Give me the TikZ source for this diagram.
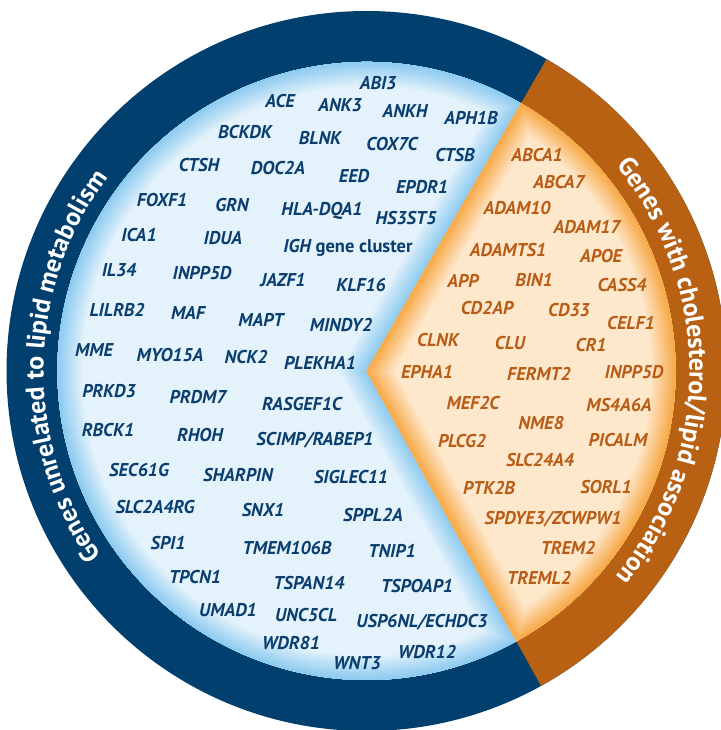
\documentclass[tikz,border=0pt]{standalone}
\usepackage{fontspec}
\setmainfont{PT Sans}
\usetikzlibrary{decorations.text}
\definecolor{ringblue}{RGB}{0,63,110}
\definecolor{ringorange}{RGB}{185,97,19}
\definecolor{bluefill}{RGB}{227,242,251}
\definecolor{blueedge}{RGB}{140,202,240}
\definecolor{orangefill}{RGB}{254,232,204}
\definecolor{orangeedge}{RGB}{247,168,69}
\definecolor{bluetext}{RGB}{10,62,110}
\definecolor{orangetext}{RGB}{184,92,22}
\tikzset{
  gene/.style={font=\bfseries\itshape\fontsize{18.5}{20}\selectfont, inner sep=0pt, text height=13pt, text depth=0pt},
  bgene/.style={gene, text=bluetext},
  ogene/.style={gene, text=orangetext},
  ringtext/.style={decorate, decoration={text along path, text align=center, text color=white,
    text={|\bfseries\fontsize{26}{26}\selectfont|#1}}}
}

\begin{document}
\begin{tikzpicture}[x=1pt,y=1pt]
\useasboundingbox (0,0) rectangle (720,-730);
\def\R{360}
\def\r{309}
\coordinate (c) at (366.5,-371);
\fill[ringblue] (c) circle (\R);
\fill[ringorange] (c) -- ++(60:\R) arc (60:-61:\R) -- cycle;
\begin{scope}
\clip (c) -- ++(60:\r) arc (60:299:\r) -- cycle;
\fill[bluefill] (c) circle (\r);
\foreach \k [evaluate=\k as \w using 52-4*\k, evaluate=\k as \p using int(8*\k)] in {0,...,12}
  \draw[line width=\w, blueedge!\p!bluefill] (c) -- ++(60:\r) arc (60:299:\r) -- cycle;
\end{scope}
\begin{scope}
\clip (c) -- ++(60:\r) arc (60:-61:\r) -- cycle;
\fill[orangefill] (c) circle (\r);
\foreach \k [evaluate=\k as \w using 52-4*\k, evaluate=\k as \p using int(8*\k)] in {0,...,12}
  \draw[line width=\w, orangeedge!\p!orangefill] (c) -- ++(60:\r) arc (60:-61:\r) -- cycle;
\end{scope}
\path[shift={(c)}, ringtext={Genes unrelated to lipid metabolism}] (218:323) arc (218:140:323);
\path[shift={(c)}, ringtext={Genes with cholesterol/lipid association}] (42:323) arc (42:-42:323);

\node[bgene] (abi3) at (378,-83) {ABI3};
\node[bgene] (ace) at (280,-101) {ACE};
\node[bgene] (ank3) at (340,-105) {ANK3};
\node[bgene] (ankh) at (405,-111) {ANKH};
\node[bgene] (aph1b) at (471,-118) {APH1B};
\node[bgene] (bckdk) at (245,-132) {BCKDK};
\node[bgene] (blnk) at (320,-138) {BLNK};
\node[bgene] (cox7c) at (392,-144) {COX7C};
\node[bgene] (ctsb) at (455,-155) {CTSB};
\node[bgene] (ctsh) at (199,-165) {CTSH};
\node[bgene] (doc2a) at (278,-168) {DOC2A};
\node[bgene] (eed) at (354,-176) {EED};
\node[bgene] (epdr1) at (422,-187) {EPDR1};
\node[bgene] (foxf1) at (162,-200) {FOXF1};
\node[bgene] (grn) at (232,-205) {GRN};
\node[bgene] (hladqa1) at (322,-209) {HLA-DQA1};
\node[bgene] (hs3st5) at (406,-218) {HS3ST5};
\node[bgene] (ica1) at (139,-235) {ICA1};
\node[bgene] (idua) at (223,-238) {IDUA};
\node[bgene] (igh) at (348,-246) {IGH\upshape\ gene cluster};
\node[bgene] (il34) at (119,-270) {IL34};
\node[bgene] (inpp5db) at (202,-273) {INPP5D};
\node[bgene] (jazf1) at (283,-280) {JAZF1};
\node[bgene] (klf16) at (361,-285) {KLF16};
\node[bgene] (lilrb2) at (117,-310) {LILRB2};
\node[bgene] (maf) at (188,-313) {MAF};
\node[bgene] (mapt) at (261,-320) {MAPT};
\node[bgene] (mindy2) at (341,-325) {MINDY2};
\node[bgene] (mme) at (94,-350) {MME};
\node[bgene] (myo15a) at (170,-355) {MYO15A};
\node[bgene] (nck2) at (246,-357) {NCK2};
\node[bgene] (plekha1) at (320,-363) {PLEKHA1};
\node[bgene] (prkd3) at (109,-391) {PRKD3};
\node[bgene] (prdm7) at (198,-397) {PRDM7};
\node[bgene] (rasgef1c) at (302,-404) {RASGEF1C};
\node[bgene] (rbck1) at (108,-430) {RBCK1};
\node[bgene] (rhoh) at (200,-435) {RHOH};
\node[bgene] (scimp) at (315,-439) {SCIMP/RABEP1};
\node[bgene] (sec61g) at (139,-470) {SEC61G};
\node[bgene] (sharpin) at (238,-475) {SHARPIN};
\node[bgene] (siglec11) at (351,-477) {SIGLEC11};
\node[bgene] (slc2a4rg) at (155,-507) {SLC2A4RG};
\node[bgene] (snx1) at (263,-510) {SNX1};
\node[bgene] (sppl2a) at (373,-515) {SPPL2A};
\node[bgene] (spi1) at (168,-543) {SPI1};
\node[bgene] (tmem106b) at (287,-548) {TMEM106B};
\node[bgene] (tnip1) at (392,-551) {TNIP1};
\node[bgene] (tpcn1) at (195,-577) {TPCN1};
\node[bgene] (tspan14) at (309,-583) {TSPAN14};
\node[bgene] (tspoap1) at (417,-586) {TSPOAP1};
\node[bgene] (umad1) at (228,-610) {UMAD1};
\node[bgene] (unc5cl) at (306,-615) {UNC5CL};
\node[bgene] (usp6nl) at (422,-621) {USP6NL/ECHDC3};
\node[bgene] (wdr81) at (291,-643) {WDR81};
\node[bgene] (wnt3) at (357,-663) {WNT3};
\node[bgene] (wdr12) at (427,-652) {WDR12};

\node[ogene] (abca1) at (537,-155) {ABCA1};
\node[ogene] (abca7) at (559,-182) {ABCA7};
\node[ogene] (adam10) at (517,-208) {ADAM10};
\node[ogene] (adam17) at (587,-227) {ADAM17};
\node[ogene] (adamts1) at (508,-250) {ADAMTS1};
\node[ogene] (apoe) at (601,-256) {APOE};
\node[ogene] (app) at (463,-281) {APP};
\node[ogene] (bin1) at (534,-280) {BIN1};
\node[ogene] (cass4) at (622,-285) {CASS4};
\node[ogene] (cd2ap) at (487,-308) {CD2AP};
\node[ogene] (cd33) at (569,-310) {CD33};
\node[ogene] (celf1) at (631,-323) {CELF1};
\node[ogene] (clnk) at (438,-340) {CLNK};
\node[ogene] (clu) at (510,-343) {CLU};
\node[ogene] (cr1) at (591,-345) {CR1};
\node[ogene] (epha1) at (427,-372) {EPHA1};
\node[ogene] (fermt2) at (539,-374) {FERMT2};
\node[ogene] (inpp5do) at (634,-372) {INPP5D};
\node[ogene] (mef2c) at (473,-403) {MEF2C};
\node[ogene] (ms4a6a) at (619,-405) {MS4A6A};
\node[ogene] (nme8) at (541,-423) {NME8};
\node[ogene] (plcg2) at (462,-441) {PLCG2};
\node[ogene] (picalm) at (618,-440) {PICALM};
\node[ogene] (slc24a4) at (540,-460) {SLC24A4};
\node[ogene] (ptk2b) at (489,-488) {PTK2B};
\node[ogene] (sorl1) at (606,-487) {SORL1};
\node[ogene] (spdye3) at (553,-518) {SPDYE3/ZCWPW1};
\node[ogene] (trem2) at (568,-548) {TREM2};
\node[ogene] (treml2) at (539,-578) {TREML2};
\end{tikzpicture}
\end{document}
